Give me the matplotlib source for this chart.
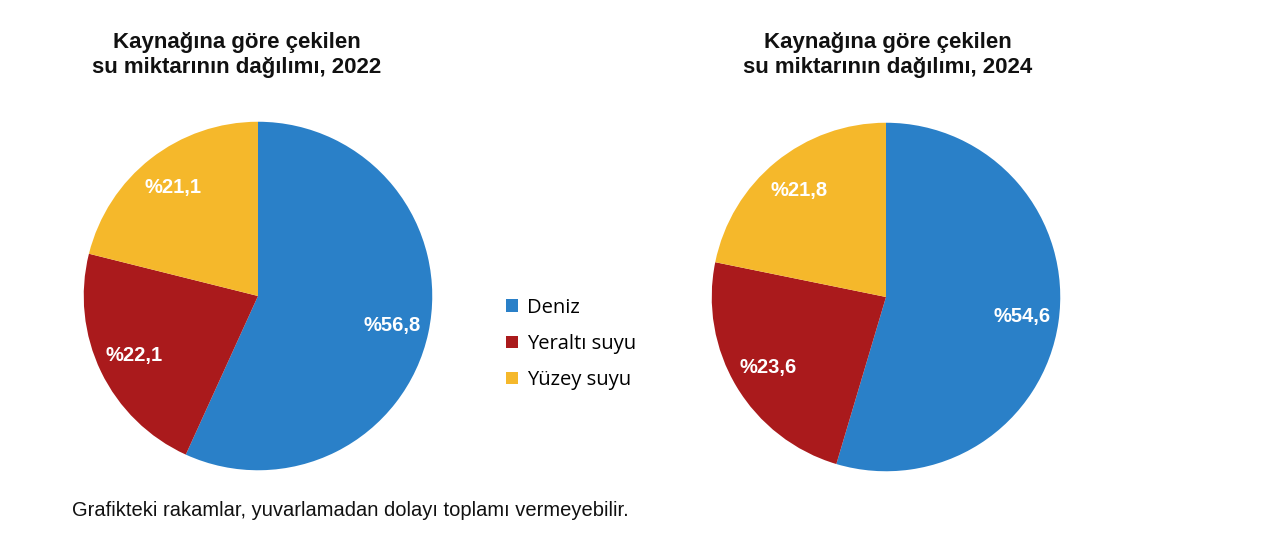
import numpy as np
import matplotlib.pyplot as plt
from matplotlib.patches import Patch

sources = ['Deniz', 'Yeraltı suyu', 'Yüzey suyu']
share_2022 = [56.8, 22.1, 21.1]
share_2024 = [54.6, 23.6, 21.8]
colors = ['#2a80c8', '#aa1a1c', '#f5b82b']

W, H = 1280, 551
fig = plt.figure(figsize=(W / 100, H / 100), dpi=100)
fig.patch.set_facecolor('white')


def draw_pie(cx, cy, r, values, title, title_x):
    ax = fig.add_axes([(cx - r) / W, (H - cy - r) / H, 2 * r / W, 2 * r / H])
    wedges, _ = ax.pie(values, colors=colors, startangle=90, counterclock=False,
                       radius=1, wedgeprops=dict(linewidth=0))
    for w, v in zip(wedges, values):
        ang = np.deg2rad((w.theta1 + w.theta2) / 2)
        ax.text(0.79 * np.cos(ang), 0.79 * np.sin(ang), f'%{v:.1f}'.replace('.', ','),
                ha='center', va='center', color='white', fontsize=14.5,
                fontweight='bold', family='Liberation Sans')
    ax.set_xlim(-1.01, 1.01)
    ax.set_ylim(-1.01, 1.01)
    ax.set_aspect('equal')
    ax.axis('off')
    fig.text(title_x / W, 1 - 55 / H, title, ha='center', va='center',
             fontsize=16, fontweight='bold', family='Liberation Sans', linespacing=1.3,
             color='#111111')


draw_pie(258, 296, 176, share_2022, 'Kaynağına göre çekilen\nsu miktarının dağılımı, 2022', 237)
draw_pie(886, 297, 176, share_2024, 'Kaynağına göre çekilen\nsu miktarının dağılımı, 2024', 888)

handles = [Patch(facecolor=c, edgecolor='none') for c in colors]
fig.legend(handles, sources, loc='center left', bbox_to_anchor=(488 / W, 1 - 344 / H),
           frameon=False, handlelength=0.6, handleheight=0.6,
           handletextpad=0.45, labelspacing=0.8, prop={'family': 'Open Sans', 'size': 14.5})

fig.text(72 / W, 1 - 510 / H, 'Grafikteki rakamlar, yuvarlamadan dolayı toplamı vermeyebilir.',
         ha='left', va='center', fontsize=14.5, family='Liberation Sans', color='#111111')

fig.savefig('out.png', dpi=100)
